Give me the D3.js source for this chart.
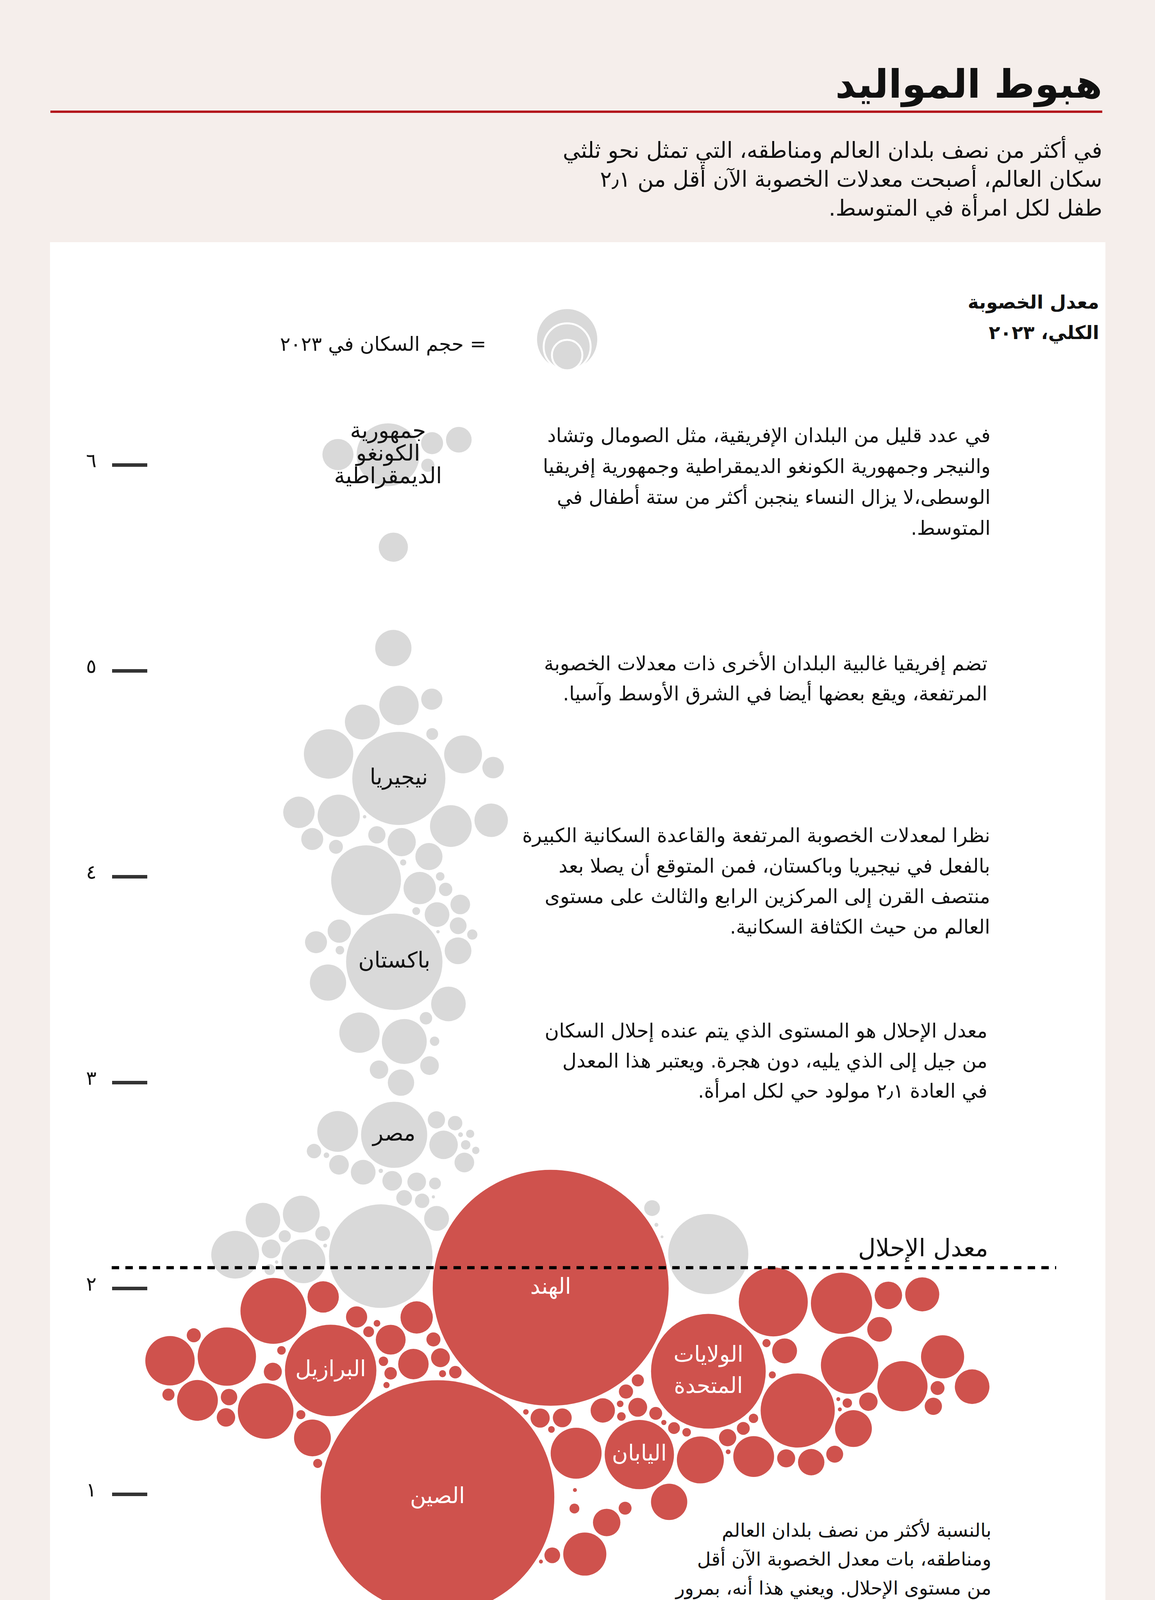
<!DOCTYPE html>
<html lang="ar">
<head>
<meta charset="utf-8">
<script src="https://cdn.jsdelivr.net/npm/d3@7"></script>
<style>
  html, body { margin: 0; padding: 0; background: #f5eeeb; overflow: hidden; }
  svg { display: block; }
  text { font-family: "DejaVu Sans", "Noto Sans", sans-serif; }
</style>
</head>
<body>
<svg id="chart" width="2957" height="4828"></svg>
<script>
const W = 2957, H = 4828;

// total fertility rate 2023 (births per woman) and population 2023 (millions)
// countries at or above replacement, in the order they sit in the swarm, left to right
const fertilityHigh = [
  2.20, 2.11, 2.16, 2.15, 2.27, 2.20, 2.11, 4.20, 2.23, 4.31, 2.23, 2.68, 2.70, 3.69, 2.62,
  4.59, 2.22, 3.64, 3.49, 4.31, 4.14, 3.71, 2.75, 6.05, 2.57, 3.24, 4.30, 4.75, 3.98, 2.60,
  3.06, 4.18, 6.05, 5.60, 5.11, 4.83, 4.47, 3.59, 3.20, 3.00, 2.74, 2.12, 4.07, 4.17, 3.75,
  3.96, 3.30, 3.09, 3.82, 3.20, 4.86, 4.68, 6.00, 4.08, 2.81, 3.80, 3.94, 6.10, 2.70, 3.99,
  3.39, 4.27, 2.54, 2.30, 4.58, 3.64, 2.79, 3.85, 2.72, 6.12, 2.64, 2.74, 3.70, 3.78, 2.41,
  2.67, 4.54, 4.27, 2.49, 2.68, 2.51, 2.41, 2.44, 2.34, 2.27, 2.22, 2.15
];
const populationHigh = [
  59, 3, 0.4, 0.3, 31, 5.7, 50, 12.5, 3.8, 25.5, 9.2, 5.4, 0.8, 12.5, 10,
  63, 35, 1.9, 34, 46, 5, 14, 43, 25, 15.8, 42, 0.3, 31.5, 126, 0.5,
  8.8, 7.7, 102, 22, 34, 40, 224, 240, 52, 18, 113, 277, 1, 20.6, 0.3,
  27, 4, 9, 1.6, 2.3, 11.6, 3.6, 4.5, 19, 7.7, 15.8, 4.6, 12.5, 21, 1.9,
  31, 45, 10, 16, 37, 18.5, 5.4, 10, 1.75, 17, 10, 0.6, 2.7, 7.3, 6.4,
  2.3, 12, 29, 9, 1.4, 3.6, 5.4, 0.25, 6.4, 0.4, 0.2, 166
];

// countries below replacement, same ordering
const fertilityLow = [
  1.51, 1.49, 1.63, 1.47, 2.06, 1.76, 1.42, 1.50, 1.42, 1.68, 1.43, 1.90, 1.19, 1.29, 1.97,
  1.61, 1.82, 1.53, 1.72, 1.57, 1.74, 1.81, 1.62, 1.80, 1.72, 1.65, 1.77, 1.00, 1.66, 1.59,
  1.38, 1.32, 1.02, 1.99, 0.93, 0.71, 0.93, 1.20, 0.70, 0.72, 0.97, 1.37, 1.33, 1.42, 0.86,
  1.20, 1.50, 1.35, 1.55, 1.43, 1.32, 1.45, 1.39, 1.33, 1.31, 1.19, 1.61, 1.20, 1.30, 1.23,
  1.16, 1.24, 1.70, 1.19, 1.90, 1.44, 1.19, 1.70, 1.52, 1.43, 1.90, 1.45, 1.44, 1.34, 1.61,
  1.44, 1.81, 1.40, 1.97, 1.55, 1.96, 1.48, 1.63, 1.50, 1.54
];
const populationLow = [
  3.8, 43, 63, 2.1, 25.4, 5.1, 7, 8.4, 8.8, 88, 80, 112, 2.1, 35, 27,
  216, 11.6, 1.0, 1.9, 1.3, 5.1, 1.15, 24, 3, 2.3, 4, 23, 1410, 9.2, 4,
  0.8, 9.2, 0.4, 1438, 4.3, 48, 2.5, 124, 6.4, 0.4, 34, 9.5, 1.15, 15.3, 19.5,
  67, 5.2, 1.9, 3.8, 9.2, 3.6, 1.15, 4.3, 1.9, 0.7, 57, 340, 43, 7.7, 0.6,
  18, 4.3, 1.75, 8.4, 123, 142, 7.4, 16, 1.3, 2.3, 97, 0.4, 0.4, 35, 85,
  8.8, 15.8, 2.3, 30, 65, 19.5, 7.7, 48, 5, 31
];

// named bubbles (index into high list, then low list offset by its length)
const labelIndex = [32, 36, 37, 40, 87 + 33, 87 + 27, 87 + 56, 87 + 15, 87 + 37];
const labelLines = [
  ["جمهورية", "الكونغو", "الديمقراطية"],
  ["نيجيريا"], ["باكستان"], ["مصر"],
  ["الهند"], ["الصين"], ["الولايات", "المتحدة"], ["البرازيل"], ["اليابان"]
];

const replacement = 2.1;
const yTicks = [0, 1, 2, 3, 4, 5, 6];
const legendPop = [100, 57, 24];

const grey = "#d9d9d9", red = "#cf524d";
const arDigits = s => String(s).replace(/[0-9]/g, d => "٠١٢٣٤٥٦٧٨٩"[d]);

const svg = d3.select("#chart");

// panel
svg.append("rect").attr("x", 128).attr("y", 620).attr("width", 2702).attr("height", 3888).attr("fill", "#fff");

// rtl text helper: right edge at x
function rtl(g, x, y, str, size, weight, fill) {
  return g.append("text")
    .attr("x", x).attr("y", y)
    .attr("direction", "rtl").attr("text-anchor", "start")
    .attr("font-size", size).attr("font-weight", weight || "normal")
    .attr("fill", fill || "#111")
    .text(str);
}
function block(x, y0, lh, lines, size, weight) {
  lines.forEach((l, i) => rtl(svg, x, y0 + i * lh, l, size, weight));
}

// header
rtl(svg, 2822, 250, "هبوط المواليد", 100, "bold");
svg.append("rect").attr("x", 129).attr("y", 283).attr("width", 2693).attr("height", 6).attr("fill", "#b3151d");
block(2822, 404, 74, [
  "في أكثر من نصف بلدان العالم ومناطقه، التي تمثل نحو ثلثي",
  "سكان العالم، أصبحت معدلات الخصوبة الآن أقل من ٢٫١",
  "طفل لكل امرأة في المتوسط."
], 56, "normal");

// scales
const y = d3.scaleLinear().domain([0, 6]).range([4352, 1190]);
const r = d3.scaleSqrt().domain([0, 1438]).range([0, 302]);

// axis
const axis = svg.append("g").attr("transform", "translate(377,0)")
  .call(d3.axisLeft(y).tickValues(yTicks).tickSize(90).tickPadding(40)
    .tickFormat(d => d === 0 ? "صفر" : arDigits(d)));
axis.select(".domain").remove();
axis.selectAll(".tick line").attr("stroke", "#333").attr("stroke-width", 9);
axis.selectAll(".tick text").attr("font-size", 50).attr("fill", "#111")
  .attr("font-family", "DejaVu Sans").attr("dy", "0.1em");

// axis title
block(2814, 790, 78, ["معدل الخصوبة", "الكلي، ٢٠٢٣"], 48, "bold");

// legend
const lg = svg.append("g");
lg.selectAll("circle").data(legendPop).join("circle")
  .attr("cx", 1452).attr("cy", d => 948 - r(d)).attr("r", d => r(d))
  .attr("fill", grey).attr("stroke", "#fff").attr("stroke-width", 5);
rtl(lg, 1245, 898, "= حجم السكان في ٢٠٢٣", 50, "normal");

// bubbles laid out with a force simulation, seeded in list order
function makeNodes(fert, pop, tx, step) {
  const mid = (fert.length - 1) / 2;
  return fert.map((f, k) => ({
    f, pop: pop[k], r: r(pop[k]), tx, ty: y(f),
    x: tx + (k - mid) * step, y: y(f)
  }));
}
const nodes = makeNodes(fertilityHigh, populationHigh, 1007, 10)
  .concat(makeNodes(fertilityLow, populationLow, 1470, 17));

const sim = d3.forceSimulation(nodes)
  .force("x", d3.forceX(d => d.tx).strength(d => d.f >= replacement ? 0.05 : 0.009))
  .force("y", d3.forceY(d => d.ty).strength(1))
  .force("collide", d3.forceCollide(d => d.r + 4).strength(1).iterations(4))
  .alphaDecay(0.008)
  .stop();
for (let t = 0; t < 800; t++) {
  sim.tick();
  nodes.forEach(d => { d.x = Math.max(290 + d.r, Math.min(2700 - d.r, d.x)); });
}

svg.append("g").selectAll("circle").data(nodes).join("circle")
  .attr("cx", d => d.x).attr("cy", d => d.y).attr("r", d => d.r)
  .attr("fill", d => d.f >= replacement ? grey : red);

// replacement line
svg.append("line")
  .attr("x1", 286).attr("x2", 2704).attr("y1", y(replacement)).attr("y2", y(replacement))
  .attr("stroke", "#000").attr("stroke-width", 8).attr("stroke-dasharray", "19,16");
rtl(svg, 2530, 3216, "معدل الإحلال", 62, "normal");

// bubble labels
labelIndex.forEach((idx, k) => {
  const d = nodes[idx];
  const lines = labelLines[k];
  const lh = lines.length > 2 ? 58 : 80;
  const col = d.f >= replacement ? "#111" : "#fff";
  lines.forEach((l, j) => {
    svg.append("text")
      .attr("x", d.x).attr("y", d.y + (j - (lines.length - 1) / 2) * lh)
      .attr("text-anchor", "middle").attr("dominant-baseline", "middle")
      .attr("font-size", 56).attr("fill", col).text(l);
  });
});

// annotations
block(2536, 1132, 79, [
  "في عدد قليل من البلدان الإفريقية، مثل الصومال وتشاد",
  "والنيجر وجمهورية الكونغو الديمقراطية وجمهورية إفريقيا",
  "الوسطى،لا يزال النساء ينجبن أكثر من ستة أطفال في",
  "المتوسط."
], 50);
block(2528, 1716, 77, [
  "تضم إفريقيا غالبية البلدان الأخرى ذات معدلات الخصوبة",
  "المرتفعة، ويقع بعضها أيضا في الشرق الأوسط وآسيا."
], 50);
block(2535, 2156, 78, [
  "نظرا لمعدلات الخصوبة المرتفعة والقاعدة السكانية الكبيرة",
  "بالفعل في نيجيريا وباكستان، فمن المتوقع أن يصلا بعد",
  "منتصف القرن إلى المركزين الرابع والثالث على مستوى",
  "العالم من حيث الكثافة السكانية."
], 50);
block(2528, 2656, 77, [
  "معدل الإحلال هو المستوى الذي يتم عنده إحلال السكان",
  "من جيل إلى الذي يليه، دون هجرة. ويعتبر هذا المعدل",
  "في العادة ٢٫١ مولود حي لكل امرأة."
], 50);
block(2538, 3934, 74, [
  "بالنسبة لأكثر من نصف بلدان العالم",
  "ومناطقه، بات معدل الخصوبة الآن أقل",
  "من مستوى الإحلال. ويعني هذا أنه، بمرور",
  "الوقت وبدون هجرة داخلة، ستنخفض أعداد",
  "السكان فيها، بل إن بعضها بدأ يتراجع بالفعل."
], 48);

// footer
const f1 = rtl(svg, 2820, 4613, "", 44);
f1.append("tspan").attr("font-weight", "bold").text("المصدر:");
f1.append("tspan").text(" الأمم المتحدة، تقرير \"التوقعات السكانية في العالم\" (٢٠٢٤)");
const f2 = rtl(svg, 2820, 4681, "", 44);
f2.append("tspan").attr("font-weight", "bold").text("ملحوظة:");
f2.append("tspan").text(" ليست كل البلدان والمناطق المشمولة في مجموعة البيانات ظاهرة نظرا");
rtl(svg, 2820, 4749, "لأحجام السكان الصغيرة.", 44);

svg.append("text").attr("x", 132).attr("y", 4704).attr("text-anchor", "start")
  .attr("direction", "ltr").attr("font-size", 84).attr("font-weight", "bold").attr("fill", "#111")
  .text("التمويل والتنمية");
</script>
</body>
</html>
